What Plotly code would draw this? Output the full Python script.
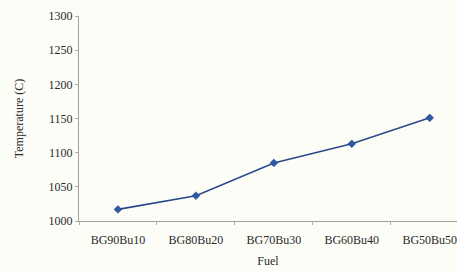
import plotly.graph_objects as go

fuels = ["BG90Bu10", "BG80Bu20", "BG70Bu30", "BG60Bu40", "BG50Bu50"]
temperature = [1017, 1037, 1085, 1113, 1151]
y_ticks = [1000, 1050, 1100, 1150, 1200, 1250, 1300]

fig = go.Figure()
fig.add_trace(go.Scatter(
    x=fuels, y=temperature, mode="lines+markers",
    line=dict(color="#2a4a8c", width=1.6),
    marker=dict(symbol="diamond", size=6, color="#2a5aa8", line=dict(color="#1f3f80", width=0.5)),
))

font = dict(family="Liberation Serif", size=12, color="#2a2a2a")
fig.update_layout(
    width=457, height=271,
    margin=dict(l=79, r=0, t=16, b=50),
    paper_bgcolor="#fdfdf7", plot_bgcolor="#fdfdf7",
    showlegend=False, font=font,
)
fig.update_xaxes(
    type="category", range=[-0.5, 4.35],
    showline=True, linecolor="#a0a0a0", linewidth=1,
    ticks="outside", ticklen=3, tickcolor="#b0b0b0", tickson="boundaries",
    showgrid=False, ticklabelstandoff=8, automargin=False,
    tickfont=dict(family="Liberation Serif", size=12, color="#2a2a2a"),
    title=dict(text="Fuel", font=dict(family="Liberation Serif", size=12, color="#2a2a2a"), standoff=10),
)
fig.update_yaxes(
    range=[1000, 1300], tickvals=y_ticks,
    showline=True, linecolor="#a0a0a0", linewidth=1,
    ticks="outside", ticklen=3, tickcolor="#b0b0b0",
    showgrid=False, zeroline=False, automargin=False,
    title=dict(text="Temperature (C)", font=dict(family="Liberation Serif", size=12, color="#2a2a2a"), standoff=22),
)
fig.write_html("out.html", config={"displayModeBar": False},
               post_script="document.body.style.margin='0';")
